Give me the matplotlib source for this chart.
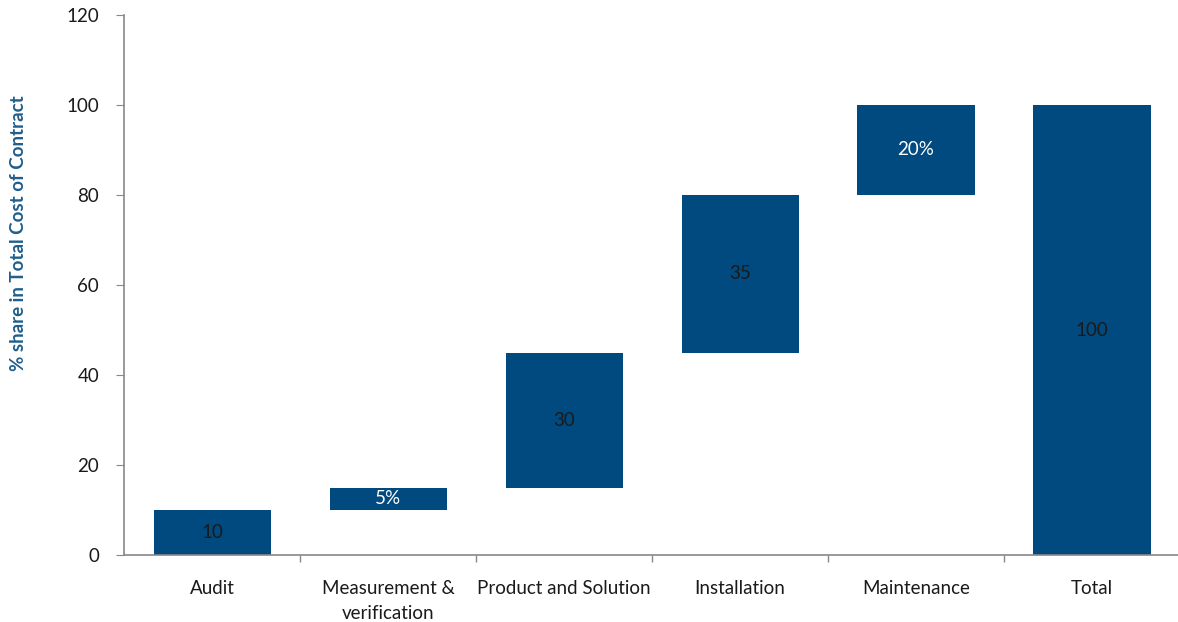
import matplotlib
matplotlib.use("Agg")
import matplotlib.pyplot as plt
import numpy as np

categories = ["Audit", "Measurement &\nverification", "Product and Solution",
              "Installation", "Maintenance", "Total"]
values = [10, 5, 30, 35, 20, 100]
labels = ["10", "5%", "30", "35", "20%", "100"]
label_colors = ["#1a1a1a", "white", "#1a1a1a", "#1a1a1a", "white", "#1a1a1a"]
is_total = [False, False, False, False, False, True]

plt.rcParams['font.family'] = ['Lato', 'DejaVu Sans']

fig = plt.figure(figsize=(11.78, 6.22), dpi=100)
ax = fig.add_axes([0.1053, 0.1077, 0.8964, 0.8682])

bar_color = "#004A7F"
bottoms = []
run = 0
for v, t in zip(values, is_total):
    if t:
        bottoms.append(0)
    else:
        bottoms.append(run)
        run += v

x = np.arange(len(categories))
ax.bar(x, values, bottom=bottoms, width=0.665, color=bar_color, zorder=2)
for xi, v, b, lab, c in zip(x, values, bottoms, labels, label_colors):
    ax.text(xi, b + v / 2, lab, ha="center", va="center", color=c, fontsize=13.5)

ax.set_xlim(-0.5, len(categories) - 0.5)
ax.set_ylim(0, 120)
ax.set_yticks(np.arange(0, 121, 20))
ax.set_xticks(np.arange(0.5, len(categories) - 0.4, 1.0))
ax.set_xticklabels([])
ax.set_xticks(x, minor=True)
ax.set_xticklabels(categories, minor=True, fontsize=13.5, color="#1a1a1a",
                   linespacing=1.6)
ax.tick_params(axis="x", which="minor", length=0, pad=18)
ax.tick_params(axis="x", which="major", length=5, color="#888888", width=1)
ax.tick_params(axis="y", length=6, color="#888888", labelsize=13.5,
               labelcolor="#1a1a1a", pad=12)

for s in ["top", "right"]:
    ax.spines[s].set_visible(False)
for s in ["left", "bottom"]:
    ax.spines[s].set_color("#888888")
    ax.spines[s].set_linewidth(1.2)

ax.set_ylabel("% share in Total Cost of Contract", color="#1F5F8B",
              fontsize=13.5, fontweight="bold", labelpad=26)
ax.yaxis.set_label_coords(-0.092, 0.596)

fig.savefig("out.png", dpi=100)
